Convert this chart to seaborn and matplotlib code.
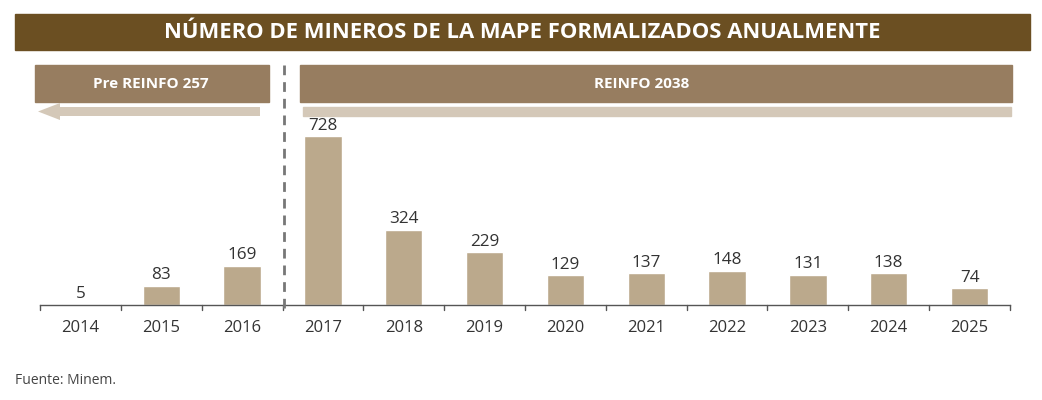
import numpy as np
import pandas as pd
import matplotlib
matplotlib.use('Agg')
import matplotlib.pyplot as plt
import seaborn as sns
from matplotlib.patches import Rectangle, FancyArrow
from matplotlib.lines import Line2D

# data
years = ['2014', '2015', '2016', '2017', '2018', '2019', '2020', '2021', '2022', '2023', '2024', '2025']
mineros = [5, 83, 169, 728, 324, 229, 129, 137, 148, 131, 138, 74]
title = 'NÚMERO DE MINEROS DE LA MAPE FORMALIZADOS ANUALMENTE'
pre_label = 'Pre REINFO 257'
reinfo_label = 'REINFO 2038'
fuente = 'Fuente: Minem.'

df = pd.DataFrame({'year': years, 'mineros': mineros})

sns.set_theme(style='white')
plt.rcParams['font.family'] = ['Open Sans', 'DejaVu Sans']

W, H = 1042, 400
fig = plt.figure(figsize=(W / 100, H / 100), dpi=100)

def fx(px):
    return px / W

def fy(py):
    return 1 - py / H

# axes: baseline at y=305, top at y=120
ax = fig.add_axes([fx(40), fy(305), fx(1010) - fx(40), fy(120) - fy(305)])
sns.barplot(data=df, x='year', y='mineros', color='#bba98c', saturation=1,
            width=0.46, ax=ax)
ymax = 728 * 185 / 169
ax.set_ylim(0, ymax)
ax.set_xlim(-0.5, len(years) - 0.5)
for i, v in enumerate(mineros):
    ax.text(i, v + 10, str(v), ha='center', va='bottom', fontsize=12.3, color='#333333')

for s in ['top', 'right', 'left']:
    ax.spines[s].set_visible(False)
ax.spines['bottom'].set_color('#555555')
ax.spines['bottom'].set_linewidth(1.0)
ax.set_yticks([])
ax.set_xlabel('')
ax.set_ylabel('')
ax.set_xticks(range(len(years)))
ax.set_xticklabels(years, fontsize=12, color='#333333')
ax.tick_params(axis='x', length=0, pad=11)
# separators between categories
tick_len = 5 * ymax / 185
for b in np.arange(-0.5, len(years) + 0.5, 1):
    ax.plot([b, b], [0, -tick_len], color='#555555', lw=1.0, clip_on=False)

# title band
fig.patches.append(Rectangle((fx(15), fy(50)), fx(1030) - fx(15), fy(14) - fy(50),
                             transform=fig.transFigure, color='#6b4f22', zorder=0))
fig.text(fx(522), fy(32), title, ha='center', va='center', fontsize=15.8,
         fontweight='bold', color='white')

# period boxes
fig.patches.append(Rectangle((fx(35), fy(102)), fx(269) - fx(35), fy(65) - fy(102),
                             transform=fig.transFigure, color='#977d60'))
fig.text(fx(151), fy(84), pre_label, ha='center', va='center', fontsize=11,
         fontweight='bold', color='white')
fig.patches.append(Rectangle((fx(300), fy(102)), fx(1012) - fx(300), fy(65) - fy(102),
                             transform=fig.transFigure, color='#977d60'))
fig.text(fx(642), fy(84), reinfo_label, ha='center', va='center', fontsize=11,
         fontweight='bold', color='white')

# arrows
fig.patches.append(FancyArrow(fx(260), fy(111.5), fx(38) - fx(260), 0,
                              width=fy(107) - fy(116), head_width=fy(103) - fy(120),
                              head_length=fx(22), length_includes_head=True,
                              transform=fig.transFigure, color='#d4c8b8', lw=0))
fig.patches.append(Rectangle((fx(303), fy(116)), fx(1011) - fx(303), fy(107) - fy(116),
                             transform=fig.transFigure, color='#d4c8b8'))

# dashed divider
fig.lines.append(Line2D([fx(283.5), fx(283.5)], [fy(65), fy(308)], transform=fig.transFigure,
                        color='#777777', lw=2, linestyle=(0, (3.5, 2.5))))

fig.text(fx(15), fy(380), fuente, ha='left', va='center', fontsize=10, color='#444444')

fig.savefig('out.png', dpi=100, facecolor='white')
